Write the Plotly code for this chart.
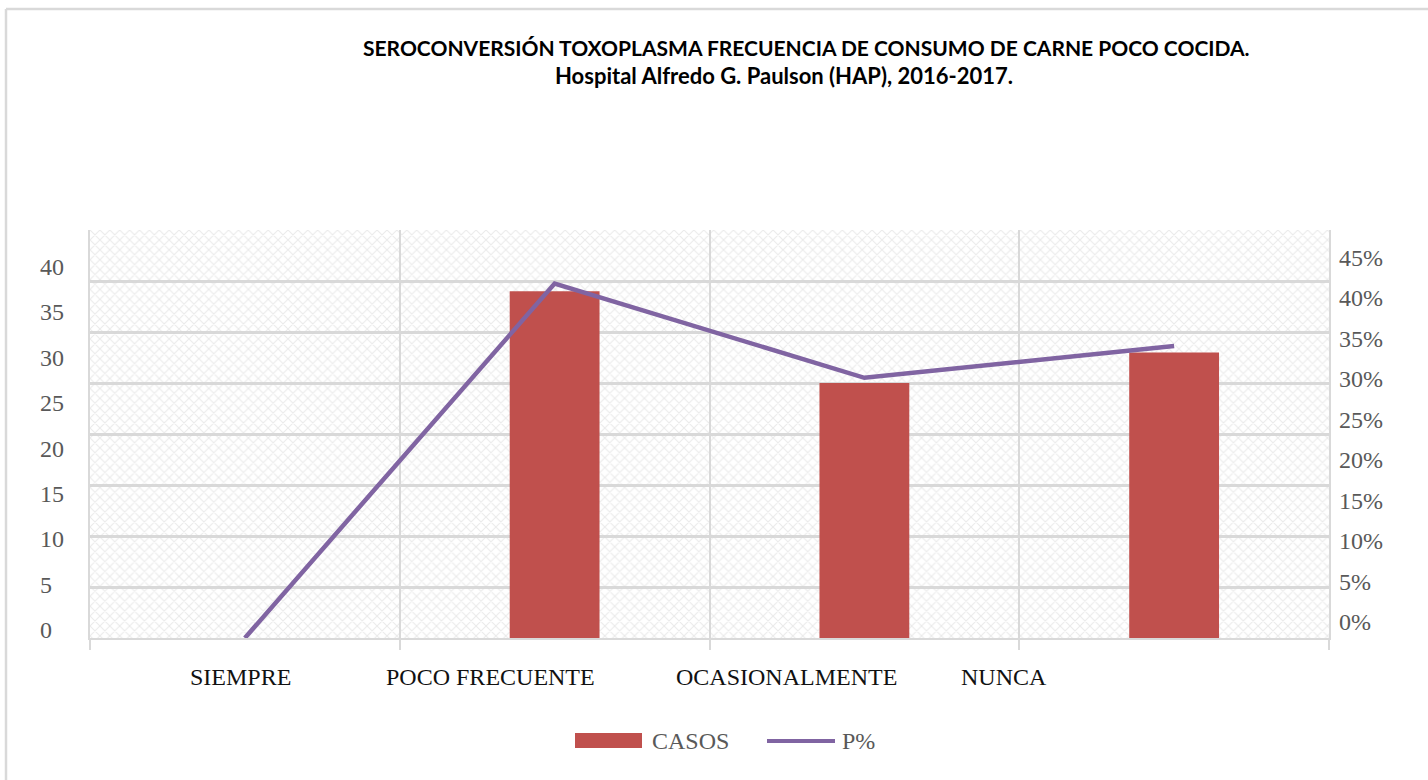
import plotly.graph_objects as go

# ---------------- data ----------------
categories = ["SIEMPRE", "POCO FRECUENTE", "OCASIONALMENTE", "NUNCA"]
casos = [0, 34, 25, 28]
p_pct = [0.0, 0.391, 0.287, 0.322]
left_ticks = [0, 5, 10, 15, 20, 25, 30, 35, 40]
right_ticks = [0.0, 0.05, 0.10, 0.15, 0.20, 0.25, 0.30, 0.35, 0.40, 0.45]
right_labels = ["0%", "5%", "10%", "15%", "20%", "25%", "30%", "35%", "40%", "45%"]
title_lines = ["SEROCONVERSIÓN TOXOPLASMA FRECUENCIA DE CONSUMO DE CARNE POCO COCIDA.",
               "Hospital Alfredo G. Paulson (HAP), 2016-2017."]

# ---------------- layout constants ----------------
W, H = 1428, 780
L, R, T, B = 90, 99, 230, 142
PW, PH = W - L - R, H - T - B
BAR_COLOR = "#C0504D"
LINE_COLOR = "#8064A2"
GRID = "#D9D9D9"
LABEL_GRAY = "#595959"
SERIF = "Liberation Serif, Times New Roman, serif"


def px(x):
    return (x - L) / PW


def py(y):
    return (H - B - y) / PH


fig = go.Figure()

# hatched plot-area background
fig.add_trace(go.Bar(
    x=categories, y=[max(left_ticks)] * len(categories), width=1,
    marker=dict(color="rgba(0,0,0,0)", line=dict(width=0),
                pattern=dict(shape="x", fgcolor="#D6D6D6", size=7, solidity=0.3)),
    hoverinfo="skip", showlegend=False,
))

fig.add_trace(go.Bar(
    x=categories, y=casos, name="CASOS", width=0.29,
    marker=dict(color=BAR_COLOR, line=dict(width=0)), showlegend=False,
))

fig.add_trace(go.Scatter(
    x=categories, y=p_pct, name="P%", yaxis="y2", mode="lines",
    line=dict(color=LINE_COLOR, width=4.5), showlegend=False,
))

fig.update_layout(
    width=W, height=H,
    margin=dict(l=L, r=R, t=T, b=B),
    paper_bgcolor="white", plot_bgcolor="white",
    barmode="overlay",
    showlegend=False,
    xaxis=dict(
        type="category", range=[-0.5, len(categories) - 0.5],
        showticklabels=False, tickson="boundaries", ticks="outside",
        ticklen=10, tickwidth=2, tickcolor=GRID,
        showgrid=True, gridcolor=GRID, gridwidth=2,
        showline=True, linecolor=GRID, linewidth=2, zeroline=False,
    ),
    yaxis=dict(
        range=[0, max(left_ticks)], tickvals=left_ticks, showticklabels=False,
        showgrid=True, gridcolor=GRID, gridwidth=2.5,
        showline=True, linecolor=GRID, linewidth=2, zeroline=False, ticks="",
    ),
    yaxis2=dict(
        range=[0, max(right_ticks)], overlaying="y", side="right",
        showticklabels=False, showgrid=False, zeroline=False,
        showline=True, linecolor=GRID, linewidth=2, ticks="",
    ),
)

annotations = []
# left tick labels
lo, hi = py(630), py(267)
for v in left_ticks:
    yy = lo + (v - left_ticks[0]) / (left_ticks[-1] - left_ticks[0]) * (hi - lo)
    annotations.append(dict(x=px(38), y=yy, xref="paper", yref="paper", text=str(v),
                            showarrow=False, xanchor="left", yanchor="middle",
                            font=dict(family=SERIF, size=24, color=LABEL_GRAY)))
# right tick labels
lo, hi = py(622), py(258)
for v, t in zip(right_ticks, right_labels):
    yy = lo + (v - right_ticks[0]) / (right_ticks[-1] - right_ticks[0]) * (hi - lo)
    annotations.append(dict(x=px(1337), y=yy, xref="paper", yref="paper", text=t,
                            showarrow=False, xanchor="left", yanchor="middle",
                            font=dict(family=SERIF, size=24, color=LABEL_GRAY)))
# category labels
for c, cx in zip(categories, [240, 490, 786, 1004]):
    annotations.append(dict(x=px(cx), y=py(677), xref="paper", yref="paper", text=c,
                            showarrow=False, xanchor="center", yanchor="middle",
                            font=dict(family=SERIF, size=24, color="#111111")))
# title
for t, cx, cy, fs in zip(title_lines, [806, 784], [47, 75], [21, 22]):
    annotations.append(dict(x=px(cx), y=py(cy), xref="paper", yref="paper", text="<b>" + t + "</b>",
                            showarrow=False, xanchor="center", yanchor="middle",
                            font=dict(family="Lato, sans-serif", size=fs, color="#000000")))
# legend
annotations.append(dict(x=px(650), y=py(741), xref="paper", yref="paper", text="CASOS",
                        showarrow=False, xanchor="left", yanchor="middle",
                        font=dict(family=SERIF, size=24, color=LABEL_GRAY)))
annotations.append(dict(x=px(840), y=py(741), xref="paper", yref="paper", text="P%",
                        showarrow=False, xanchor="left", yanchor="middle",
                        font=dict(family=SERIF, size=24, color=LABEL_GRAY)))

shapes = [
    dict(type="rect", xref="paper", yref="paper", x0=px(575), x1=px(642), y0=py(748), y1=py(733),
         fillcolor=BAR_COLOR, line=dict(width=0)),
    dict(type="line", xref="paper", yref="paper", x0=px(767), x1=px(835), y0=py(741), y1=py(741),
         line=dict(color=LINE_COLOR, width=4)),
    # chart border (top and left)
    dict(type="line", xref="paper", yref="paper", x0=px(6), x1=px(W + 5), y0=py(9), y1=py(9),
         line=dict(color=GRID, width=2.5)),
    dict(type="line", xref="paper", yref="paper", x0=px(6), x1=px(6), y0=py(9), y1=py(H + 5),
         line=dict(color=GRID, width=2.5)),
]
fig.update_layout(annotations=annotations, shapes=shapes)

fig.write_html("out.html")
